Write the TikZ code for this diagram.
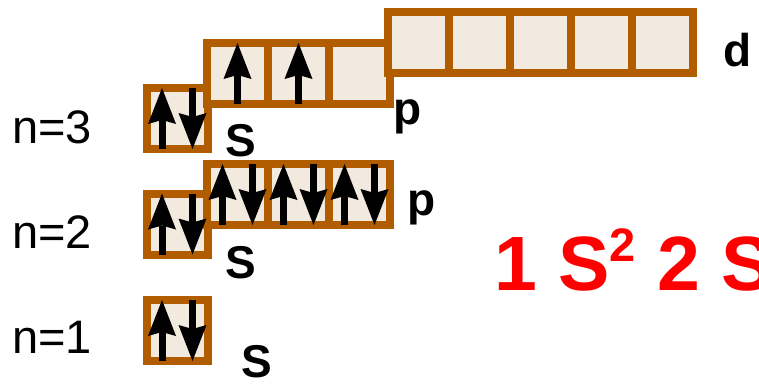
\documentclass[tikz,border=0pt]{standalone}
\usepackage{fontspec}
\setmainfont{Liberation Sans}
\usetikzlibrary{arrows.meta}
\definecolor{orbedge}{RGB}{178,92,0}
\definecolor{orbfill}{RGB}{242,234,223}
\definecolor{cfgred}{RGB}{255,0,0}

\begin{document}
\begin{tikzpicture}[
    x=1pt, y=-1pt,
    orbital/.style={draw=orbedge, fill=orbfill, line width=8pt, minimum size=61pt, inner sep=0pt, outer sep=0pt},
    spin/.style={-{Stealth[length=36pt, width=28pt, inset=4pt, line width=0pt]}, line width=7pt, draw=black},
    level/.style={font=\fontsize{47}{47}\selectfont, anchor=base west, inner sep=0pt},
    sublabel/.style={font=\fontsize{46}{46}\selectfont\bfseries, anchor=base, inner sep=0pt},
    config/.style={font=\fontsize{77}{77}\selectfont\bfseries, text=cfgred, anchor=base west, inner sep=0pt},
]
\useasboundingbox (0,0) rectangle (759,390);
\clip (0,0) rectangle (759,390);

% Levels
\node[level] (n3) at (12,143) {n=3};
\node[level] (n2) at (12,248) {n=2};
\node[level] (n1) at (12,353) {n=1};

% Orbital boxes, n=1
\node[orbital] (s1) at (177.5,330.5) {};

% n=2
\node[orbital] (s2) at (177.5,224) {};
\node[orbital] (p2a) at (237.5,194.5) {};
\node[orbital] (p2b) at (298.5,194.5) {};
\node[orbital] (p2c) at (359.5,194.5) {};

% n=3
\node[orbital] (s3) at (177.5,118.5) {};
\node[orbital] (p3a) at (237.5,73.5) {};
\node[orbital] (p3b) at (298.5,73.5) {};
\node[orbital] (p3c) at (359.5,73.5) {};
\node[orbital] (d3a) at (418.5,42.5) {};
\node[orbital] (d3b) at (479.5,42.5) {};
\node[orbital] (d3c) at (540.5,42.5) {};
\node[orbital] (d3d) at (601.5,42.5) {};
\node[orbital] (d3e) at (662.5,42.5) {};

% Electrons
\draw[spin] ([xshift=-15.5pt]s1.south) -- ([xshift=-15.5pt]s1.north);
\draw[spin] ([xshift=15pt]s1.north) -- ([xshift=15pt]s1.south);
\draw[spin] ([xshift=-15.5pt]s2.south) -- ([xshift=-15.5pt]s2.north);
\draw[spin] ([xshift=15pt]s2.north) -- ([xshift=15pt]s2.south);
\draw[spin] ([xshift=-15pt]p2a.south) -- ([xshift=-15pt]p2a.north);
\draw[spin] ([xshift=15pt]p2a.north) -- ([xshift=15pt]p2a.south);
\draw[spin] ([xshift=-15pt]p2b.south) -- ([xshift=-15pt]p2b.north);
\draw[spin] ([xshift=15pt]p2b.north) -- ([xshift=15pt]p2b.south);
\draw[spin] ([xshift=-15pt]p2c.south) -- ([xshift=-15pt]p2c.north);
\draw[spin] ([xshift=15pt]p2c.north) -- ([xshift=15pt]p2c.south);
\draw[spin] ([xshift=-15.5pt]s3.south) -- ([xshift=-15.5pt]s3.north);
\draw[spin] ([xshift=15pt]s3.north) -- ([xshift=15pt]s3.south);
\draw[spin] (p3a.south) -- (p3a.north);
\draw[spin] (p3b.south) -- (p3b.north);

% Sublevel labels
\node[sublabel] (s1lbl) at (256.7,377) {S};
\node[sublabel] (s2lbl) at (241,278) {S};
\node[sublabel] (p2lbl) at (421.5,215) {p};
\node[sublabel] (s3lbl) at (241,157) {S};
\node[sublabel] (p3lbl) at (407.5,125) {p};
\node[sublabel] (d3lbl) at (738,66.7) {d};

% Configuration
\node[config] (cfg) at (494,290) {1 S\raisebox{29pt}{\fontsize{47}{47}\selectfont 2} 2 S};

\end{tikzpicture}
\end{document}
